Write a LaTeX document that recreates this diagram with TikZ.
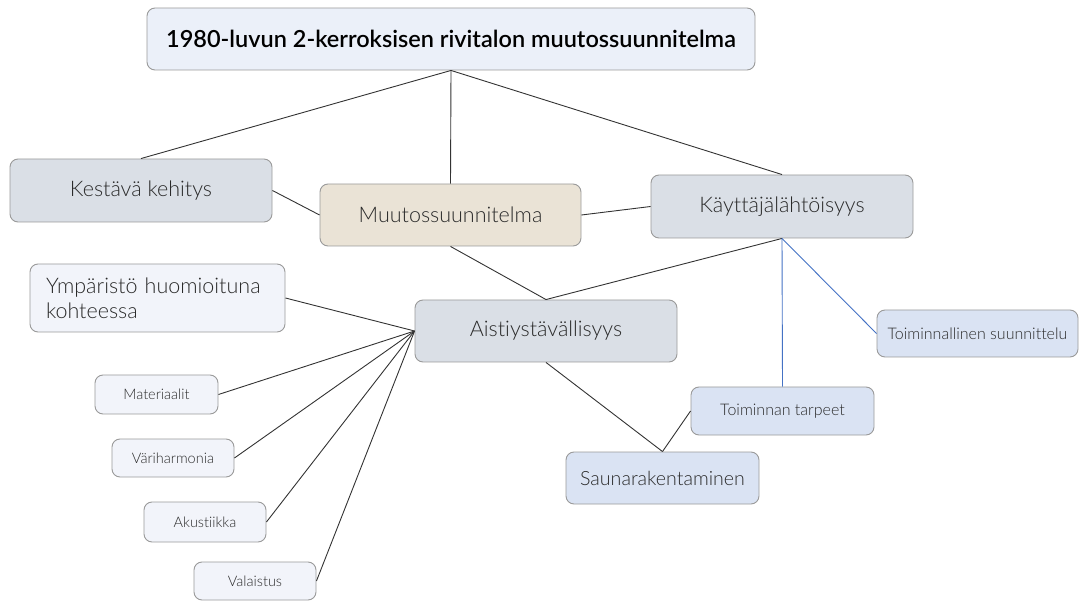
\documentclass[tikz,border=0pt]{standalone}
\usepackage{fontspec}
\setmainfont{Lato}[UprightFont=* Light, BoldFont=* Semibold, RawFeature=-liga]
\definecolor{titlefill}{HTML}{EBF0F9}
\definecolor{grayfill}{HTML}{DADFE6}
\definecolor{beigefill}{HTML}{EAE3D6}
\definecolor{palefill}{HTML}{F2F4FA}
\definecolor{bluefill}{HTML}{DAE3F3}
\definecolor{edgecol}{HTML}{9A9A9A}
\definecolor{txtcol}{HTML}{2A2A2A}
\definecolor{blueline}{HTML}{4472C4}
\begin{document}
\begin{tikzpicture}[x=1pt,y=-1pt,
  box/.style={rectangle, rounded corners=8pt, draw=edgecol, line width=0.9pt, inner sep=0pt, text=txtcol, align=center},
  bigbox/.style={box, font=\fontsize{21.5}{25}\selectfont},
  smallbox/.style={box, font=\fontsize{14.5}{17}\selectfont},
  rsmallbox/.style={box, font=\fontsize{16}{19}\selectfont},
  link/.style={draw=black!80, line width=0.9pt},
  bluelink/.style={draw=blueline, line width=0.9pt}]
\useasboundingbox (0,0) rectangle (1079,601);
\node[box, fill=titlefill, minimum width=608pt, minimum height=62pt, font=\fontsize{23.5}{27}\selectfont\bfseries, text=black] (title) at (451,39) {1980-luvun 2-kerroksisen rivitalon muutossuunnitelma};
\node[bigbox, fill=grayfill, minimum width=262pt, minimum height=63pt] (kest) at (141,190.5) {Kestävä kehitys};
\node[bigbox, fill=beigefill, minimum width=261pt, minimum height=62pt] (muut) at (450.5,215) {Muutossuunnitelma};
\node[bigbox, fill=grayfill, minimum width=262pt, minimum height=63pt] (kayt) at (782,206.5) {Käyttäjälähtöisyys};
\node[bigbox, fill=grayfill, minimum width=262pt, minimum height=62pt] (aist) at (546,331) {Aistiystävällisyys};
\node[bigbox, fill=palefill, minimum width=255pt, minimum height=68pt, align=left, text width=223pt, font=\fontsize{21.5}{25}\selectfont] (ymp) at (157.5,298) {Ympäristö huomioituna\\kohteessa};
\node[smallbox, fill=palefill, minimum width=123pt, minimum height=39pt] (mat) at (156.5,394.5) {Materiaalit};
\node[smallbox, fill=palefill, minimum width=122pt, minimum height=38pt] (vari) at (173,458) {Väriharmonia};
\node[smallbox, fill=palefill, minimum width=122pt, minimum height=40pt] (aku) at (205,522) {Akustiikka};
\node[smallbox, fill=palefill, minimum width=122pt, minimum height=38pt] (val) at (255,581) {Valaistus};
\node[rsmallbox, fill=bluefill, minimum width=201pt, minimum height=47pt] (tsuun) at (977.5,333.5) {Toiminnallinen suunnittelu};
\node[rsmallbox, fill=bluefill, minimum width=183pt, minimum height=48pt] (ttarp) at (782.5,411) {Toiminnan tarpeet};
\node[bigbox, fill=bluefill, minimum width=193pt, minimum height=52pt, font=\fontsize{19.6}{23}\selectfont] (sauna) at (662.5,478) {Saunarakentaminen};
\draw[link] (title.south) -- (kest.north);
\draw[link] (title.south) -- (muut.north);
\draw[link] (title.south) -- (kayt.north);
\draw[link] (kest.east) -- (muut.west);
\draw[link] (muut.east) -- (kayt.west);
\draw[link] (muut.south) -- (aist.north);
\draw[link] (kayt.south) -- (aist.north);
\draw[bluelink] (kayt.south) -- (ttarp.north);
\draw[bluelink] (kayt.south) -- (tsuun.west);
\draw[link] (aist.south) -- (sauna.north);
\draw[link] (ttarp.west) -- (sauna.north);
\draw[link] (aist.west) -- (ymp.east);
\draw[link] (aist.west) -- (mat.east);
\draw[link] (aist.west) -- (vari.east);
\draw[link] (aist.west) -- (aku.east);
\draw[link] (aist.west) -- (val.east);
\end{tikzpicture}
\end{document}
